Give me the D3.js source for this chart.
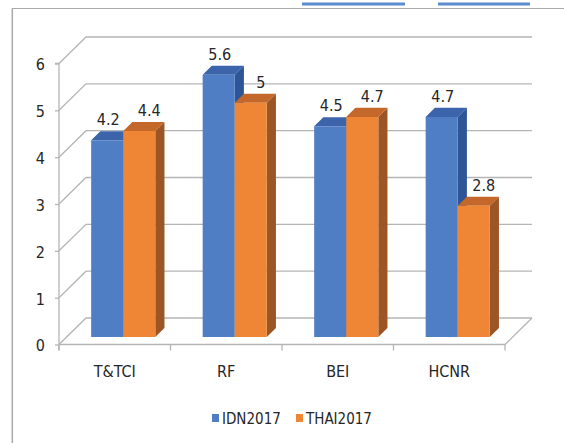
<!DOCTYPE html>
<html>
<head>
<meta charset="utf-8">
<script src="https://cdn.jsdelivr.net/npm/d3@7"></script>
<style>
  html, body { margin: 0; padding: 0; background: #fff; }
  svg { display: block; }
  text { font-family: "Liberation Sans Narrow", "DejaVu Sans Condensed", sans-serif; fill: #262626; }
</style>
</head>
<body>
<svg id="chart" width="564" height="443"></svg>
<script>
// Index scores per category, 2017
const categories = ["T&TCI", "RF", "BEI", "HCNR"];
const seriesNames = ["IDN2017", "THAI2017"];
const idn2017 = [4.2, 5.6, 4.5, 4.7];
const thai2017 = [4.4, 5, 4.7, 2.8];
const yTicks = [0, 1, 2, 3, 4, 5, 6];

const seriesValues = [idn2017, thai2017];
const palette = {
  IDN2017:  { front: "#4f7ec4", top: "#3b64ab", side: "#2e5595" },
  THAI2017: { front: "#ef8636", top: "#c3672a", side: "#9c5626" }
};

const svg = d3.select("#chart");

// Oblique 3D projection: depth z in [0,1] shifts points right and up
const DX = 27, DY = 26.5;
const x = d3.scaleBand().domain(categories).range([59, 505]).padding(0);
const y = d3.scaleLinear().domain([0, 6]).range([344.5, 63.5]);
const xs = d3.scaleBand().domain(seriesNames)
  .range([0.22 * x.bandwidth(), 0.795 * x.bandwidth()]).padding(0);
const proj = (px, v, z) => [px + z * DX, y(v) - z * DY];
const zFront = 0.283, zBack = 0.623;

// outer frame
svg.append("line").attr("x1", 12).attr("y1", 8.5).attr("x2", 564).attr("y2", 8.5)
  .attr("stroke", "#a9a9a9").attr("stroke-width", 1.2);
svg.append("line").attr("x1", 12.3).attr("y1", 8.5).attr("x2", 12.3).attr("y2", 443)
  .attr("stroke", "#a9a9a9").attr("stroke-width", 1.5);

// blue rules above the frame
[[302, 405], [438, 530]].forEach(([a, b]) => {
  svg.append("line").attr("x1", a).attr("x2", b).attr("y1", 4).attr("y2", 4)
    .attr("stroke", "#5b8bd0").attr("stroke-width", 3);
});

// back wall gridlines and side-wall diagonals
const grid = svg.append("g").attr("stroke", "#b5b5b5").attr("stroke-width", 1.3).attr("fill", "none");
const [x0, x1] = x.range();
yTicks.forEach(v => {
  const a = proj(x0, v, 0), b = proj(x0, v, 1), c = proj(x1, v, 1);
  grid.append("polyline").attr("points", [a, b, c].map(p => p.join(",")).join(" "));
});
// floor: front edge and right diagonal
grid.append("polyline").attr("points",
  [proj(x0, 0, 0), proj(x1, 0, 0), proj(x1, 0, 1)].map(p => p.join(",")).join(" "));

// y axis on the front plane
const yAxis = svg.append("g").attr("transform", `translate(${x0},0)`)
  .call(d3.axisLeft(y).tickValues(yTicks).tickSize(4).tickPadding(10).tickFormat(d3.format("d")));
yAxis.select(".domain").attr("stroke", "#b5b5b5").attr("stroke-width", 1.3)
  .attr("d", `M-4,${y(6)}H0V${y(0) + 6}`);
yAxis.selectAll(".tick line").attr("stroke", "#b5b5b5").attr("stroke-width", 1.3);
yAxis.selectAll(".tick text").attr("font-size", 16).attr("dy", "0.4em").style("fill", "#262626");

// category boundary ticks and labels
const bounds = categories.map(c => x(c)).concat([x1]);
svg.append("g").selectAll("line").data(bounds).join("line")
  .attr("x1", d => d).attr("x2", d => d).attr("y1", y(0)).attr("y2", y(0) + 6)
  .attr("stroke", "#b5b5b5").attr("stroke-width", 1.3);
const xAxis = svg.append("g").attr("transform", `translate(0,${y(0)})`)
  .call(d3.axisBottom(x).tickSize(0).tickPadding(21));
xAxis.select(".domain").remove();
xAxis.selectAll(".tick text").attr("font-size", 16).style("fill", "#262626");

// bars, drawn left to right so nearer faces overlap correctly
const bars = [];
categories.forEach((c, i) => {
  seriesNames.forEach((s, j) => {
    bars.push({ cat: c, series: s, value: seriesValues[j][i],
      left: x(c) + xs(s), right: x(c) + xs(s) + xs.bandwidth() });
  });
});
const pts = arr => arr.map(p => p.join(",")).join(" ");
const barG = svg.append("g");
bars.forEach(b => {
  const col = palette[b.series];
  const g = barG.append("g");
  // right side face
  g.append("polygon").attr("fill", col.side).attr("points", pts([
    proj(b.right, 0, zFront), proj(b.right, 0, zBack),
    proj(b.right, b.value, zBack), proj(b.right, b.value, zFront)]));
  // top face
  g.append("polygon").attr("fill", col.top).attr("points", pts([
    proj(b.left, b.value, zFront), proj(b.right, b.value, zFront),
    proj(b.right, b.value, zBack), proj(b.left, b.value, zBack)]));
  // front face
  g.append("polygon").attr("fill", col.front).attr("points", pts([
    proj(b.left, 0, zFront), proj(b.right, 0, zFront),
    proj(b.right, b.value, zFront), proj(b.left, b.value, zFront)]));
});

// value labels above each bar
svg.append("g").selectAll("text").data(bars).join("text")
  .attr("x", b => proj((b.left + b.right) / 2, b.value, zFront)[0] + (b.series === "IDN2017" ? 1 : 10))
  .attr("y", b => proj(b.left, b.value, zFront)[1] - 15)
  .attr("text-anchor", "middle").attr("font-size", 16)
  .text(b => b.value);

// legend
const legend = svg.append("g").attr("transform", "translate(0,0)");
const legendX = [212, 296];
seriesNames.forEach((s, j) => {
  legend.append("rect").attr("x", legendX[j]).attr("y", 414).attr("width", 7).attr("height", 8)
    .attr("fill", palette[s].front);
  legend.append("text").attr("x", legendX[j] + 10).attr("y", 424)
    .attr("font-size", 15).text(s);
});
</script>
</body>
</html>
